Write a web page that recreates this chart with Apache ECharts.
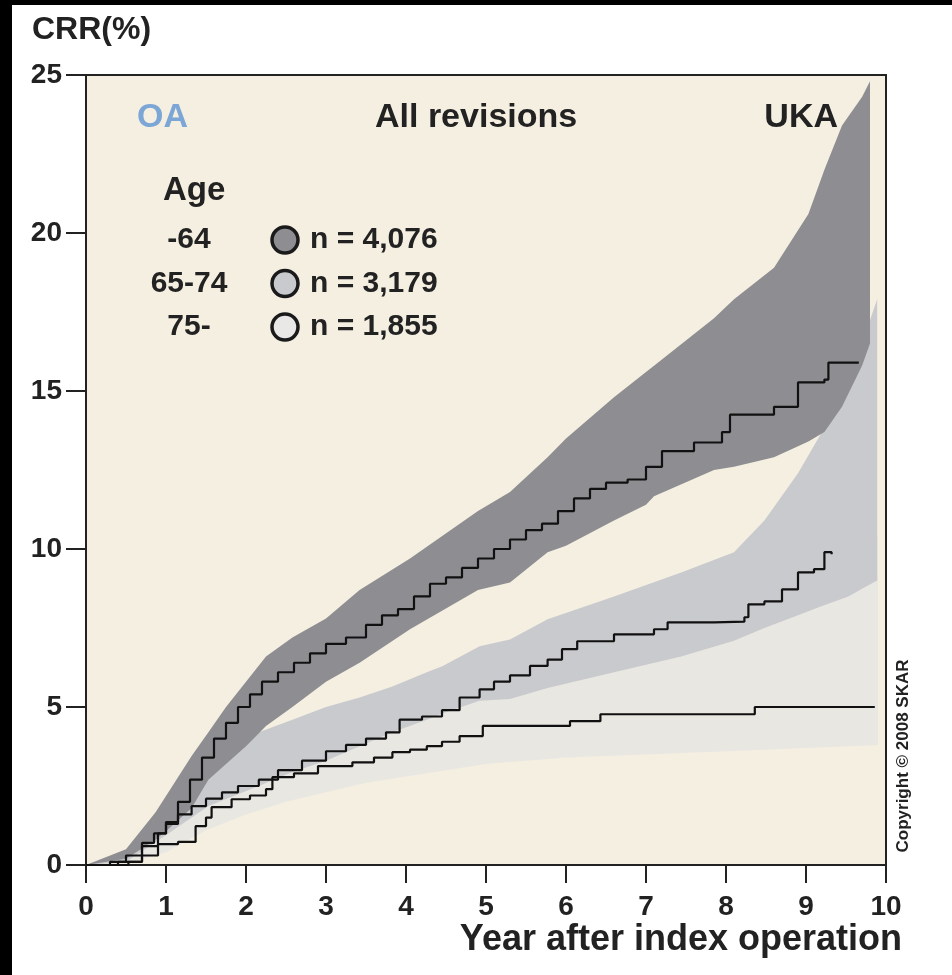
<!DOCTYPE html>
<html>
<head>
<meta charset="utf-8">
<script src="https://cdn.jsdelivr.net/npm/echarts@6.0.0/dist/echarts.min.js"></script>
<style>
  html, body { margin: 0; padding: 0; background: #fff; }
  #chart { width: 952px; height: 975px; }
</style>
</head>
<body>
<div id="chart"></div>
<script>
// x ticks / y ticks
const yearTicks = [0, 1, 2, 3, 4, 5, 6, 7, 8, 9, 10];
const crrTicks = [0, 5, 10, 15, 20, 25];

// age group -64 : step line + confidence band
const youngLineX = [0, 0.3, 0.5, 0.7, 0.85, 1.0, 1.15, 1.3, 1.45, 1.6, 1.75, 1.9, 2.05, 2.2, 2.4, 2.6, 2.8, 3.0, 3.25, 3.5, 3.7, 3.9, 4.1, 4.3, 4.5, 4.7, 4.9, 5.1, 5.3, 5.5, 5.7, 5.9, 6.1, 6.3, 6.5, 6.77, 7.0, 7.2, 7.6, 7.95, 8.05, 8.6, 8.9, 9.23, 9.28, 9.66];
const youngLineY = [0, 0.1, 0.3, 0.7, 1.0, 1.36, 2.0, 2.7, 3.4, 4.0, 4.5, 5.0, 5.4, 5.8, 6.1, 6.4, 6.7, 7.0, 7.2, 7.6, 7.9, 8.1, 8.5, 8.9, 9.1, 9.4, 9.7, 10.0, 10.3, 10.6, 10.8, 11.2, 11.6, 11.9, 12.1, 12.2, 12.6, 13.1, 13.37, 13.7, 14.25, 14.5, 15.27, 15.36, 15.9, 15.9];
const youngBandX = [0, 0.5, 0.87, 1.03, 1.32, 1.53, 1.75, 2.0, 2.25, 2.58, 3.0, 3.42, 4.05, 4.9, 5.3, 5.77, 6.0, 6.6, 7.0, 7.1, 7.85, 8.1, 8.6, 9.03, 9.23, 9.45, 9.7, 9.8];
const youngBandHi = [0, 0.5, 1.67, 2.3, 3.45, 4.2, 5.0, 5.8, 6.6, 7.2, 7.8, 8.7, 9.7, 11.2, 11.8, 12.9, 13.5, 14.8, 15.6, 15.8, 17.3, 17.9, 18.9, 20.6, 22.0, 23.4, 24.3, 24.8];
const youngBandLo = [0, 0.2, 0.8, 1.14, 1.8, 2.7, 3.2, 3.76, 4.4, 5.0, 5.8, 6.4, 7.46, 8.7, 8.94, 9.9, 10.1, 10.9, 11.4, 11.67, 12.5, 12.6, 12.9, 13.4, 13.7, 14.5, 15.8, 16.5];

// age group 65-74
const midLineX = [0, 0.4, 0.7, 0.9, 1.0, 1.15, 1.32, 1.5, 1.7, 1.9, 2.16, 2.4, 2.7, 3.0, 3.25, 3.5, 3.75, 3.92, 4.2, 4.45, 4.67, 4.92, 5.1, 5.3, 5.55, 5.77, 5.95, 6.14, 6.6, 7.1, 7.27, 7.85, 8.23, 8.28, 8.48, 8.7, 8.9, 9.1, 9.23, 9.32];
const midLineY = [0, 0.1, 0.6, 1.0, 1.3, 1.6, 1.86, 2.1, 2.3, 2.5, 2.7, 3.0, 3.3, 3.6, 3.8, 4.0, 4.2, 4.6, 4.7, 4.9, 5.3, 5.56, 5.8, 6.0, 6.3, 6.5, 6.83, 7.08, 7.3, 7.46, 7.68, 7.7, 7.84, 8.25, 8.34, 8.72, 9.26, 9.36, 9.9, 9.83];
const midBandX = [0, 0.5, 1.03, 1.53, 2.16, 2.58, 3.0, 3.42, 3.83, 4.26, 4.46, 4.92, 5.3, 5.77, 6.6, 7.44, 8.1, 8.48, 8.9, 9.2, 9.53, 9.74, 9.89];
const midBandHi = [0, 0.4, 2.2, 3.25, 4.2, 4.6, 5.0, 5.3, 5.65, 6.1, 6.3, 6.92, 7.14, 7.78, 8.5, 9.26, 9.9, 10.9, 12.4, 13.7, 15.3, 16.8, 17.9];
const midBandLo = [0, 0.1, 1.0, 1.87, 2.5, 2.94, 3.3, 3.76, 4.2, 4.6, 4.8, 5.2, 5.25, 5.6, 6.1, 6.6, 7.1, 7.5, 7.9, 8.2, 8.5, 8.8, 9.0];

// age group 75-
const oldLineX = [0, 0.53, 0.7, 0.9, 1.15, 1.37, 1.5, 1.57, 1.82, 2.05, 2.25, 2.33, 2.6, 2.9, 3.33, 3.6, 3.83, 4.05, 4.26, 4.45, 4.67, 4.96, 6.05, 6.43, 8.36, 9.86];
const oldLineY = [0, 0.1, 0.3, 0.66, 0.73, 1.23, 1.5, 1.83, 2.08, 2.2, 2.4, 2.78, 2.9, 3.13, 3.25, 3.4, 3.57, 3.65, 3.76, 3.9, 4.08, 4.4, 4.55, 4.77, 5.0, 5.0];
const oldBandX = [0, 0.5, 1, 1.5, 2, 2.5, 3, 3.5, 4, 4.5, 5, 6, 7, 8, 8.5, 9, 9.5, 9.9];
const oldBandHi = [0, 0.4, 1.5, 2.4, 3.0, 3.5, 3.9, 4.3, 4.7, 5.1, 5.5, 6.1, 6.6, 7.3, 7.8, 8.5, 9.4, 10.4];
const oldBandLo = [0, 0.05, 0.4, 1.1, 1.6, 2.0, 2.3, 2.6, 2.8, 3.0, 3.2, 3.4, 3.5, 3.6, 3.65, 3.7, 3.75, 3.8];

// legend
const ageLabels = ['-64', '65-74', '75-'];
const ageCounts = ['n = 4,076', 'n = 3,179', 'n = 1,855'];
const ageColors = ['#8e8e92', '#c9cacd', '#e9e8e6'];

const FONT = "'Liberation Sans', Arial, sans-serif";

function pairs(xs, ys) {
    return xs.map((x, i) => [x, ys[i]]);
}

// confidence band drawn as one polygon through the axes
function bandSeries(name, xs, lo, hi, color) {
    return {
        name: name,
        type: 'custom',
        coordinateSystem: 'cartesian2d',
        clip: true,
        silent: true,
        data: [[xs[0], lo[0]]],
        renderItem: function (params, api) {
            const pts = xs.map((x, i) => api.coord([x, hi[i]]));
            for (let i = xs.length - 1; i >= 0; i--) {
                pts.push(api.coord([xs[i], lo[i]]));
            }
            return { type: 'polygon', shape: { points: pts }, style: { fill: color } };
        }
    };
}

function stepSeries(name, xs, ys) {
    return {
        name: name,
        type: 'line',
        step: 'end',
        symbol: 'none',
        silent: true,
        lineStyle: { color: '#111', width: 2.2 },
        data: pairs(xs, ys)
    };
}

const legendGraphics = [];
ageLabels.forEach((label, i) => {
    const cy = 240 + i * 43.5;
    legendGraphics.push({
        type: 'text', x: 189, y: cy,
        style: { text: label, fill: '#222', font: 'bold 30px ' + FONT, align: 'center', verticalAlign: 'middle' }
    });
    legendGraphics.push({
        type: 'circle', shape: { cx: 285, cy: cy, r: 13 },
        style: { fill: ageColors[i], stroke: '#1a1a1a', lineWidth: 3.5 }
    });
    legendGraphics.push({
        type: 'text', x: 310, y: cy,
        style: { text: ageCounts[i], fill: '#222', font: 'bold 30px ' + FONT, verticalAlign: 'middle' }
    });
});

const chart = echarts.init(document.getElementById('chart'));
chart.setOption({
    backgroundColor: '#fff',
    animation: false,
    grid: {
        left: 86, right: 66, top: 75, bottom: 110,
        show: true, backgroundColor: '#f5efe1', borderColor: '#222', borderWidth: 2
    },
    xAxis: {
        type: 'value', min: 0, max: 10, interval: 1,
        splitLine: { show: false },
        axisLine: { show: true, lineStyle: { color: '#222', width: 2 } },
        axisTick: { show: true, length: 18, lineStyle: { color: '#222', width: 2 } },
        axisLabel: {
            margin: 28, color: '#222', fontSize: 28, fontWeight: 'bold', fontFamily: FONT,
            formatter: v => (yearTicks.includes(v) ? String(v) : '')
        }
    },
    yAxis: {
        type: 'value', min: 0, max: 25, interval: 5,
        splitLine: { show: false },
        axisLine: { show: true, lineStyle: { color: '#222', width: 2 } },
        axisTick: { show: true, length: 20, lineStyle: { color: '#222', width: 2 } },
        axisLabel: {
            margin: 24, color: '#222', fontSize: 28, fontWeight: 'bold', fontFamily: FONT,
            formatter: v => (crrTicks.includes(v) ? String(v) : '')
        }
    },
    series: [
        bandSeries('75- CI', oldBandX, oldBandLo, oldBandHi, '#e9e7e2'),
        bandSeries('65-74 CI', midBandX, midBandLo, midBandHi, '#c9cacd'),
        bandSeries('-64 CI', youngBandX, youngBandLo, youngBandHi, '#8e8e92'),
        stepSeries('75-', oldLineX, oldLineY),
        stepSeries('65-74', midLineX, midLineY),
        stepSeries('-64', youngLineX, youngLineY)
    ],
    graphic: [
        // black edge of the scanned picture
        { type: 'rect', shape: { x: 0, y: 0, width: 952, height: 5 }, style: { fill: '#000' }, z: 100 },
        { type: 'rect', shape: { x: 0, y: 0, width: 12, height: 975 }, style: { fill: '#000' }, z: 100 },
        { type: 'text', x: 32, y: 30, style: { text: 'CRR(%)', fill: '#222', font: 'bold 32px ' + FONT, verticalAlign: 'middle' } },
        { type: 'text', x: 902, y: 940, style: { text: 'Year after index operation', fill: '#222', font: 'bold 36px ' + FONT, align: 'right', verticalAlign: 'middle' } },
        { type: 'text', x: 137, y: 118, style: { text: 'OA', fill: '#7ba6d6', font: 'bold 34px ' + FONT, verticalAlign: 'middle' } },
        { type: 'text', x: 375, y: 118, style: { text: 'All revisions', fill: '#222', font: 'bold 34px ' + FONT, verticalAlign: 'middle' } },
        { type: 'text', x: 838, y: 118, style: { text: 'UKA', fill: '#222', font: 'bold 34px ' + FONT, align: 'right', verticalAlign: 'middle' } },
        { type: 'text', x: 163, y: 191, style: { text: 'Age', fill: '#222', font: 'bold 33px ' + FONT, verticalAlign: 'middle' } },
        {
            type: 'text', x: 903, y: 756, rotation: Math.PI / 2,
            style: { text: 'Copyright \u00a9 2008 SKAR', fill: '#222', font: 'bold 17px ' + FONT, align: 'center', verticalAlign: 'middle' }
        }
    ].concat(legendGraphics)
});
</script>
</body>
</html>
